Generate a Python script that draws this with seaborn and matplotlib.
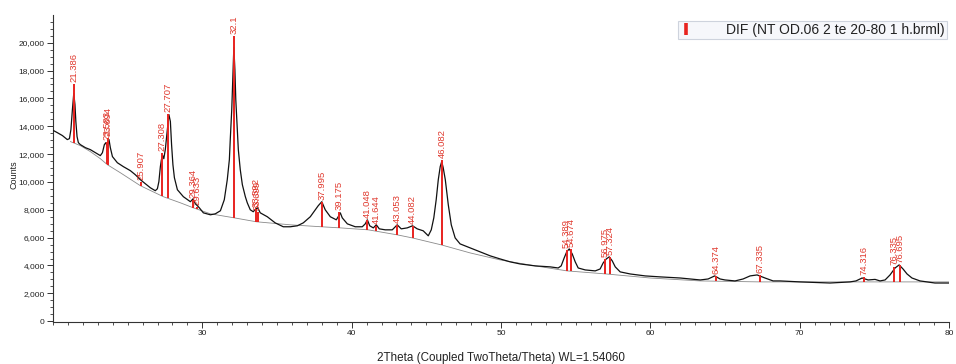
import numpy as np
import pandas as pd
import matplotlib
matplotlib.use("Agg")
import matplotlib.pyplot as plt
import matplotlib.transforms as mtransforms
from matplotlib.lines import Line2D
from matplotlib.ticker import MultipleLocator, FuncFormatter, FixedLocator
import seaborn as sns

# ---------------- data ----------------
two_theta = [20.03, 20.29, 20.63, 20.96, 21.10, 21.20, 21.30, 21.39, 21.47, 21.53,
             21.61, 21.70, 21.83, 22.17, 22.50, 22.84, 23.17, 23.31, 23.44, 23.54,
             23.61, 23.67, 23.75, 23.84, 23.98, 24.31, 24.71, 25.18, 25.51, 25.85,
             26.18, 26.52, 26.85, 26.99, 27.09, 27.19, 27.26, 27.35, 27.42, 27.52,
             27.62, 27.76, 27.86, 27.94, 28.03, 28.13, 28.33, 28.73, 29.20, 29.38,
             29.53, 29.67, 29.80, 30.07, 30.54, 30.87, 31.21, 31.47, 31.67, 31.81,
             31.87, 31.97, 32.04, 32.11, 32.18, 32.24, 32.34, 32.41, 32.54, 32.68,
             32.88, 33.01, 33.21, 33.41, 33.58, 33.71, 33.88, 34.35, 34.88, 35.42,
             35.89, 36.36, 36.76, 37.23, 37.56, 37.76, 38.00, 38.23, 38.57, 38.97,
             39.14, 39.24, 39.37, 39.71, 40.24, 40.71, 40.91, 41.05, 41.21, 41.45,
             41.65, 41.85, 42.25, 42.72, 43.05, 43.32, 43.72, 44.08, 44.39, 44.79,
             45.13, 45.33, 45.50, 45.66, 45.80, 45.93, 46.03, 46.13, 46.27, 46.47,
             46.67, 46.93, 47.26, 47.94, 48.60, 49.28, 49.94, 50.61, 51.28, 52.29,
             53.29, 53.83, 54.03, 54.23, 54.40, 54.57, 54.77, 54.97, 55.17, 55.64,
             56.31, 56.64, 56.84, 57.05, 57.25, 57.45, 57.65, 57.98, 58.65, 59.66,
             60.66, 62.00, 63.34, 63.87, 64.31, 64.67, 65.00, 65.67, 66.21, 66.68,
             67.15, 67.68, 68.22, 68.69, 70.03, 72.03, 73.37, 73.77, 74.18, 74.58,
             75.05, 75.38, 75.72, 76.05, 76.39, 76.66, 76.92, 77.19, 77.52, 78.06,
             79.06, 80.00]
counts = [13690, 13540, 13330, 13040, 13110, 13760, 15200, 16350, 15560, 14340,
          13260, 12820, 12680, 12460, 12320, 12100, 11890, 12100, 12680, 12820,
          12610, 12750, 13040, 12460, 11820, 11380, 11100, 10810, 10520, 10160,
          9870, 9580, 9370, 9510, 10020, 11100, 11600, 11890, 11670, 12320,
          13400, 14840, 14340, 12680, 11240, 10300, 9440, 8940, 8580, 8790,
          8430, 8290, 8140, 7780, 7640, 7710, 7930, 8720, 10160, 11600,
          13040, 15200, 17360, 19660, 18080, 15920, 13760, 12320, 10880, 9800,
          8940, 8500, 8000, 7860, 8070, 8140, 7780, 7500, 7060, 6780,
          6780, 6850, 7060, 7500, 8000, 8290, 8580, 8000, 7500, 7280,
          7570, 7780, 7420, 6990, 6780, 6780, 6990, 7280, 6850, 6700,
          6920, 6630, 6560, 6560, 6920, 6630, 6700, 6850, 6630, 6490,
          6130, 6560, 7420, 8720, 10160, 11100, 11460, 11020, 10160, 8360,
          6920, 5980, 5550, 5260, 4980, 4690, 4470, 4260, 4110, 3970,
          3900, 3820, 3970, 4540, 4980, 5190, 4830, 4260, 3820, 3680,
          3610, 3750, 4180, 4470, 4620, 4330, 3900, 3540, 3390, 3250,
          3180, 3100, 2960, 3030, 3250, 3030, 2960, 2890, 3030, 3250,
          3320, 3100, 2890, 2890, 2820, 2740, 2820, 2890, 3100, 2960,
          3000, 2890, 2960, 3320, 3820, 4040, 3750, 3390, 3100, 2890,
          2740, 2740]

bg_theta = [21.16, 21.83, 22.50, 23.17, 23.64, 24.51, 25.85, 27.39, 28.53, 29.40,
            30.54, 32.14, 33.61, 35.89, 37.97, 39.24, 41.11, 43.05, 44.06, 46.00,
            47.94, 49.94, 52.29, 54.43, 57.05, 59.99, 63.34, 67.35, 74.04, 80.00]
bg_counts = [12900, 12610, 12180, 11670, 11240, 10660, 9730, 8940, 8500, 8140,
             7710, 7420, 7140, 6920, 6780, 6700, 6560, 6200, 5980, 5480,
             4900, 4400, 3970, 3610, 3390, 3100, 2890, 2820, 2820, 2820]

peak_pos = [21.386, 23.583, 23.694, 25.907, 27.308, 27.707, 29.364, 29.633, 32.1,
            33.592, 33.699, 37.995, 39.175, 41.048, 41.644, 43.053, 44.082, 46.082,
            54.389, 54.674, 56.975, 57.324, 64.374, 67.335, 74.316, 76.335, 76.695]
peak_top = [17000, 12890, 13180, 10010, 12100, 14900, 8710, 8220, 20500,
            8070, 7860, 8580, 7860, 7280, 6850, 6920, 6850, 11600,
            5120, 5190, 4470, 4620, 3250, 3320, 3140, 3900, 4040]
peak_labels = ["21.386", "23.583", "23.694", "25.907", "27.308", "27.707", "29.364",
               "29.633", "32.1", "33.592", "33.699", "37.995", "39.175", "41.048",
               "41.644", "43.053", "44.082", "46.082", "54.389", "54.674", "56.975",
               "57.324", "64.374", "67.335", "74.316", "76.335", "76.695"]

legend_label = "DIF (NT OD.06 2 te 20-80 1 h.brml)"
x_label = "2Theta (Coupled TwoTheta/Theta) WL=1.54060"
y_label = "Counts"

# ---------------- style ----------------
sns.set_theme(style="ticks")
plt.rcParams["font.family"] = ["Liberation Sans", "DejaVu Sans"]

RED = "#e8231f"
LABEL_RED = "#e0392e"

fig = plt.figure(figsize=(9.56, 3.64), dpi=100)
ax = fig.add_axes([53 / 956, 42 / 364, 896 / 956, 307 / 364])

df = pd.DataFrame({"two_theta": two_theta, "counts": counts})
bg = pd.DataFrame({"two_theta": bg_theta, "counts": bg_counts})

sns.lineplot(data=bg, x="two_theta", y="counts", color="#8a8a8a", linewidth=0.6,
             estimator=None, sort=False, ax=ax, zorder=2)
sns.lineplot(data=df, x="two_theta", y="counts", color="#111111", linewidth=0.9,
             estimator=None, sort=False, ax=ax, zorder=3)

stick_bottom = np.interp(peak_pos, bg_theta, bg_counts)
ax.vlines(peak_pos, stick_bottom, peak_top, color=RED, linewidth=1.4, zorder=4)

lab_trans = mtransforms.offset_copy(ax.transData, fig=fig, x=0, y=2, units="dots")
for p, t, s in zip(peak_pos, peak_top, peak_labels):
    ax.text(p, t, s, rotation=90, ha="center", va="bottom", color=LABEL_RED,
            fontsize=6.8, transform=lab_trans, zorder=5)

ax.set_xlim(20, 80)
ax.set_ylim(-60, 21990)

ax.xaxis.set_major_locator(FixedLocator([30, 40, 50, 60, 70, 80]))
ax.xaxis.set_minor_locator(MultipleLocator(1))
ax.yaxis.set_major_locator(MultipleLocator(2000))
ax.yaxis.set_minor_locator(MultipleLocator(500))
ax.yaxis.set_major_formatter(FuncFormatter(lambda v, _: f"{int(round(v)):,}"))

ax.tick_params(axis="both", which="major", direction="out", length=4.5, width=0.7,
               color="#333333", labelsize=6, labelcolor="#222222", pad=1.5)
ax.tick_params(axis="both", which="minor", direction="out", length=2.5, width=0.6,
               color="#333333")

sns.despine(ax=ax, top=True, right=True)
for sp in ("left", "bottom"):
    ax.spines[sp].set_color("#333333")
    ax.spines[sp].set_linewidth(0.8)

ax.set_xlabel(x_label, fontsize=8.4, color="#222222")
ax.set_ylabel(y_label, fontsize=6.5, color="#222222")
ax.xaxis.set_label_coords(0.5, -0.097)
ax.yaxis.set_label_coords(-0.038, 0.48)

handle = Line2D([], [], color=RED, marker="|", linestyle="None",
                markersize=8, markeredgewidth=2.6)
leg = ax.legend([handle], [legend_label], loc="upper left",
                bbox_to_anchor=(678 / 956, 1 - 21 / 364), bbox_transform=fig.transFigure,
                frameon=True, fancybox=False, fontsize=10, borderpad=0.15,
                handlelength=0.9, handletextpad=2.4, borderaxespad=0.0)
leg.get_frame().set_facecolor("#f4f6fa")
leg.get_frame().set_edgecolor("#c3cad6")
leg.get_frame().set_linewidth(0.8)
for t in leg.get_texts():
    t.set_color("#222222")

fig.savefig("out.png", dpi=100)
